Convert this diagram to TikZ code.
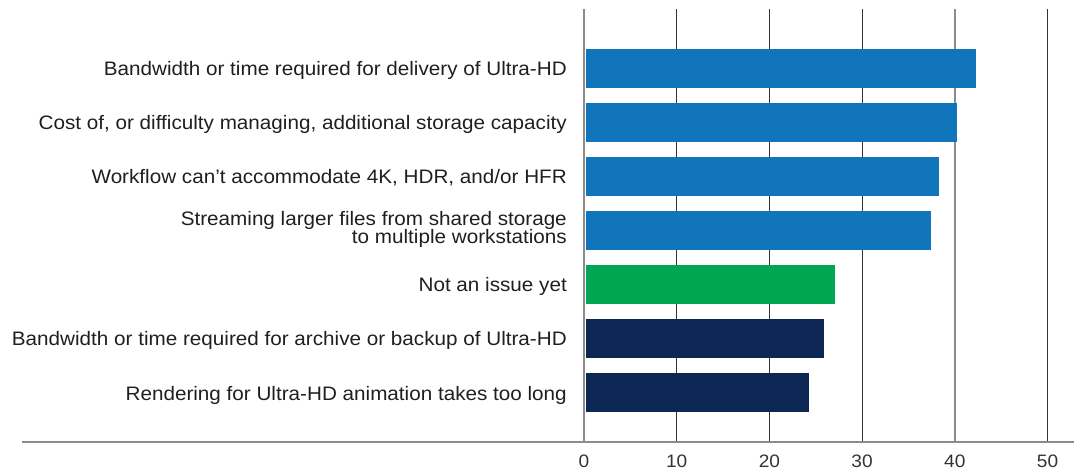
\documentclass[tikz,border=0pt]{standalone}
\usepackage{fontspec}
\setmainfont[FakeStretch=1.06]{Liberation Sans}
\begin{document}
\begin{tikzpicture}[x=1pt,y=-1pt,
  gridline/.style={line width=1.2pt,draw=black!80},
  gridlight/.style={line width=1.4pt,draw=black!45},
  bar/.style={inner sep=0pt,minimum height=38.5pt,anchor=west},
  lbl/.style={anchor=base east,font=\fontsize{19.5}{17}\selectfont,text=black!88,inner sep=0pt,align=right},
  ticklbl/.style={font=\fontsize{18}{18}\selectfont,text=black!80,inner sep=0pt}]
\definecolor{barblue}{HTML}{1175BC}
\definecolor{bargreen}{HTML}{00A651}
\definecolor{barnavy}{HTML}{0D2754}
\useasboundingbox (0,0) rectangle (1074,470);
% vertical grid: x = 584 + 9.27*value
\foreach \v/\s in {10/gridline,20/gridline,30/gridline,50/gridline,0/gridlight,40/gridlight}{
  \draw[\s] ({584+9.27*\v},9) -- ({584+9.27*\v},442);
  \node[ticklbl] (t\v) at ({584+9.27*\v},461) {\v};
}
% baseline of the value axis
\draw[line width=1.4pt,draw=black!45] (22,442) -- (1074,442);
% bars: name/value/colour/centre
\foreach \n/\val/\c/\y in {b1/42.3/barblue/68.5, b2/40.2/barblue/122.5, b3/38.3/barblue/176.5, b4/37.4/barblue/230.5,
  b5/27.1/bargreen/284.5, b6/25.9/barnavy/338.5, b7/24.2/barnavy/392.5}{
  \node[bar,fill=\c,minimum width={9.27*\val*1pt-2pt}] (\n) at (586,\y) {};
}
\node[lbl] (l1) at (567,76) {Bandwidth or time required for delivery of Ultra-HD};
\node[lbl] (l2) at (567,130) {Cost of, or difficulty managing, additional storage capacity};
\node[lbl] (l3) at (567,184) {Workflow can’t accommodate 4K, HDR, and/or HFR};
\node[lbl] (l4a) at (567,226) {Streaming larger files from shared storage};
\node[lbl] (l4b) at (567,244) {to multiple workstations};
\node[lbl] (l5) at (567,292) {Not an issue yet};
\node[lbl] (l6) at (567,346) {Bandwidth or time required for archive or backup of Ultra-HD};
\node[lbl] (l7) at (567,400) {Rendering for Ultra-HD animation takes too long};
\end{tikzpicture}
\end{document}
